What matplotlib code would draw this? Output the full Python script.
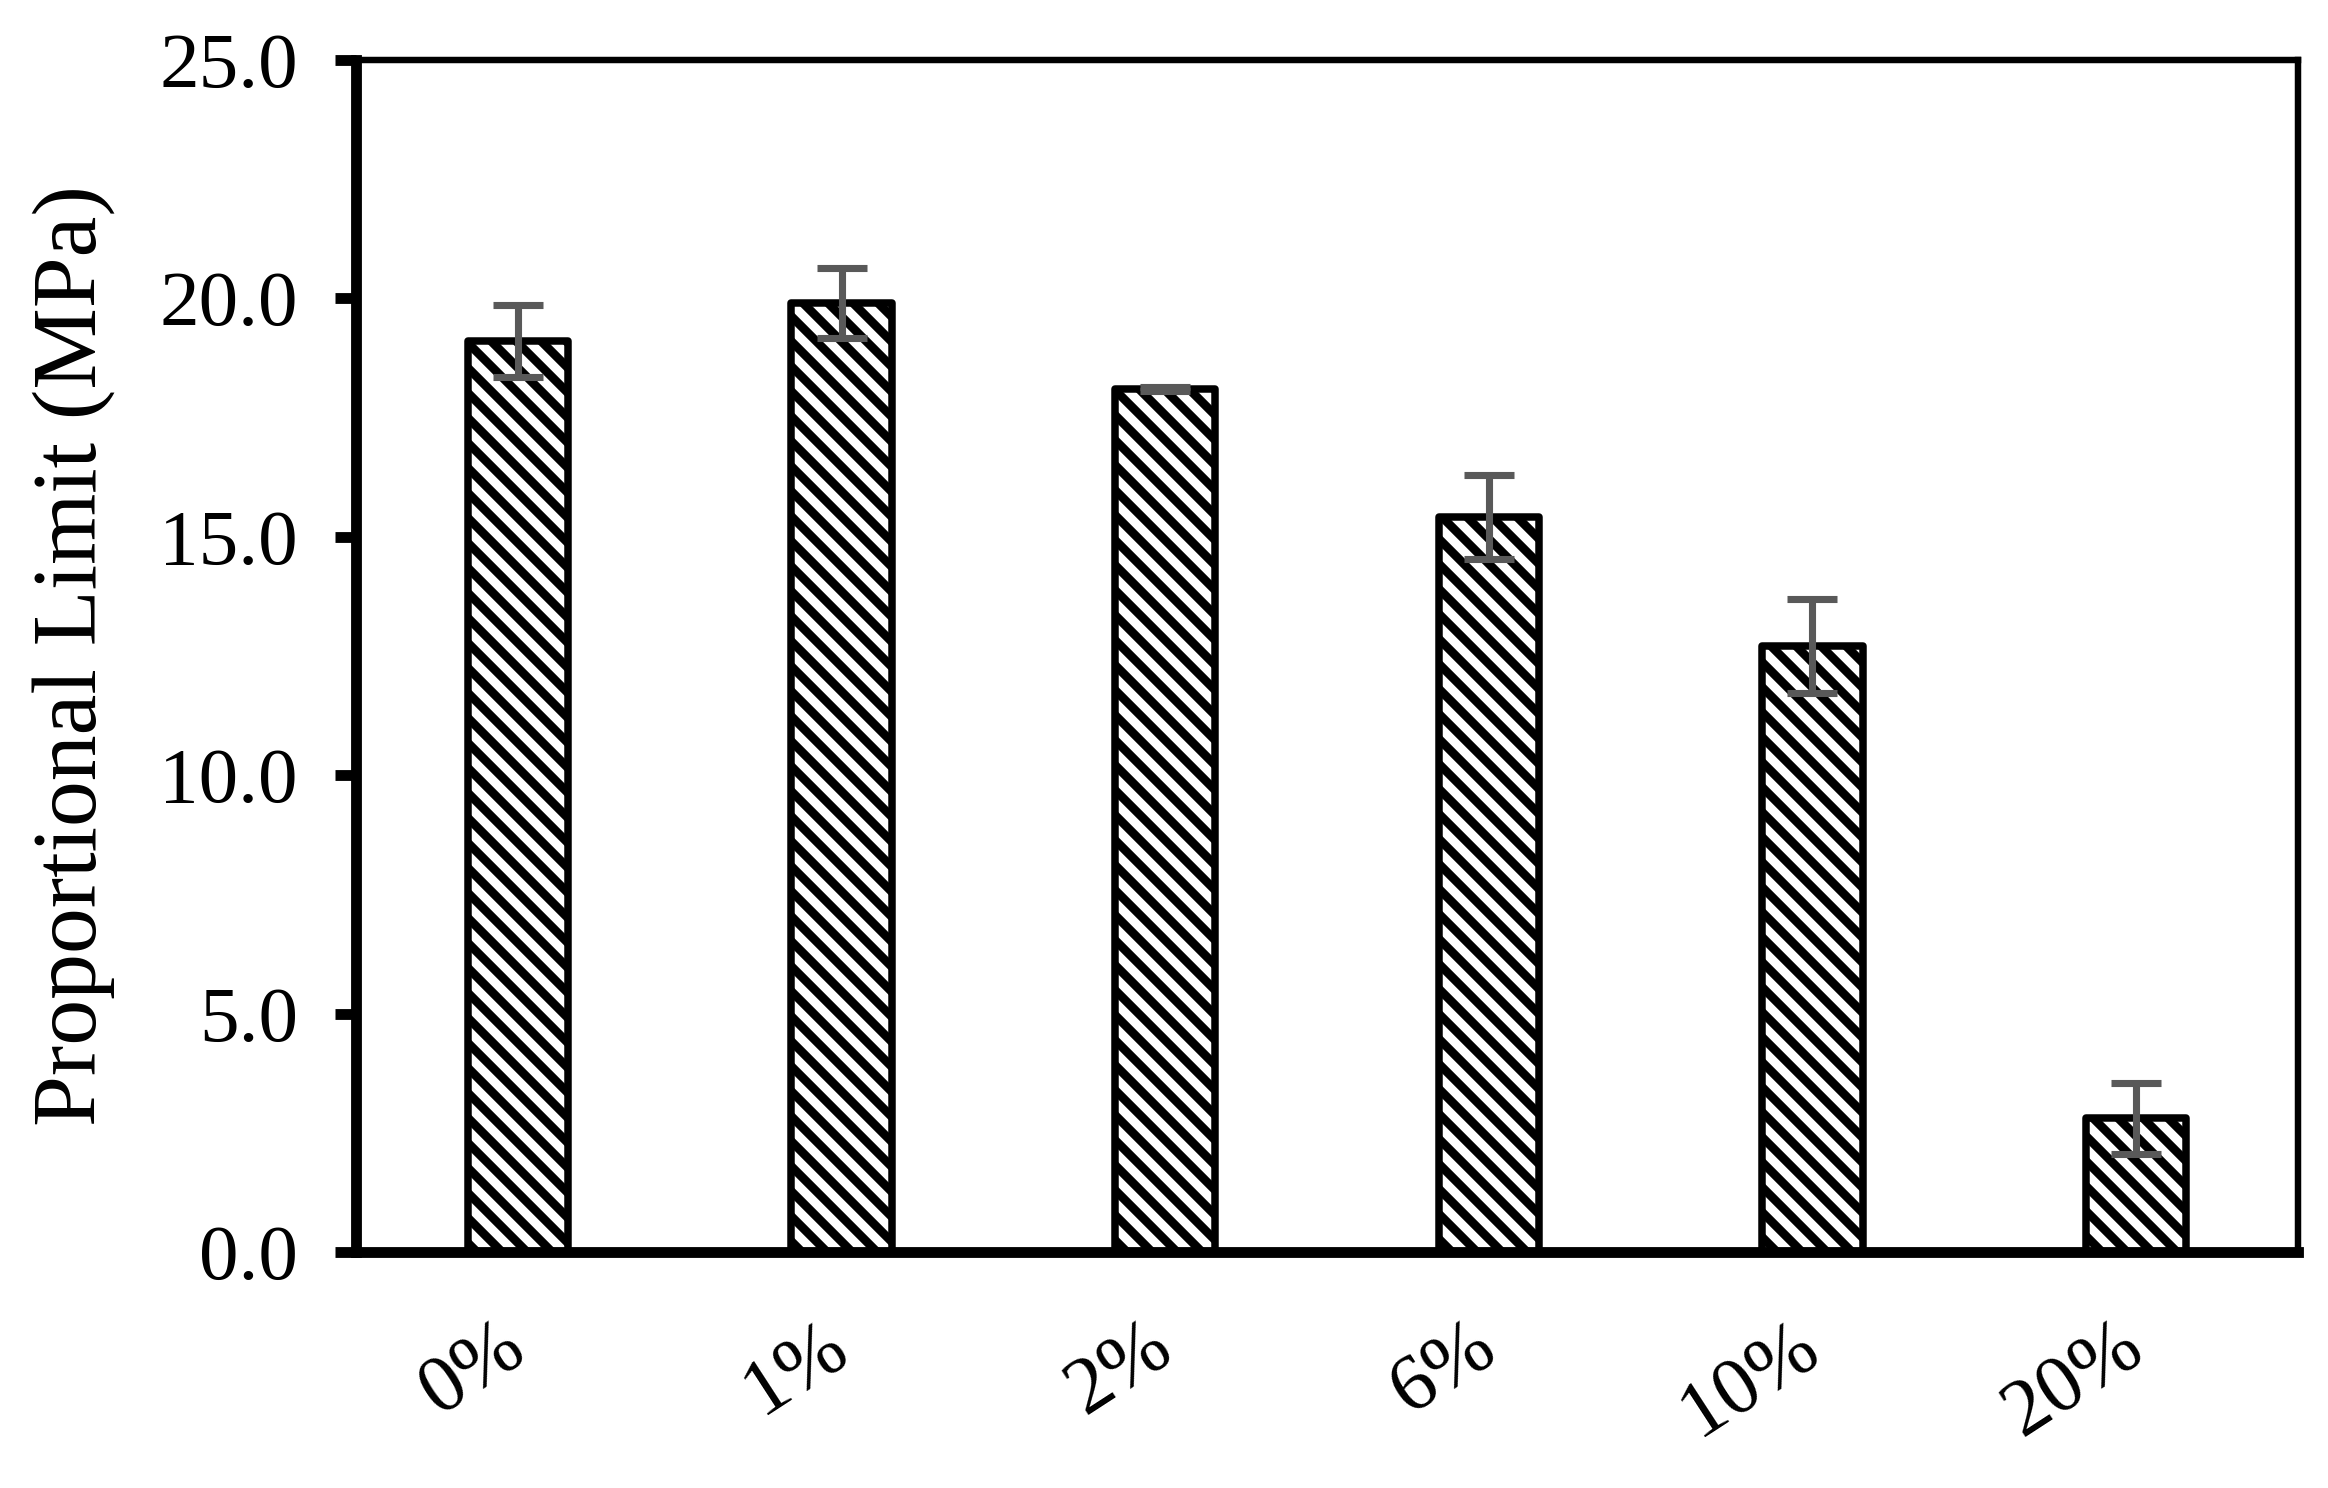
#!/usr/bin/env python3
import numpy as np
import matplotlib
matplotlib.use('Agg')
import matplotlib.pyplot as plt

# data
categories = ['0%', '1%', '2%', '6%', '10%', '20%']
limit_mpa = [19.1, 19.9, 18.1, 15.4, 12.7, 2.8]
limit_err = [0.75, 0.73, 0.04, 0.88, 0.98, 0.75]
yticks = [0.0, 5.0, 10.0, 15.0, 20.0, 25.0]

plt.rcParams['font.family'] = ['Liberation Serif', 'DejaVu Serif']
plt.rcParams['hatch.linewidth'] = 4.2
plt.rcParams['hatch.color'] = 'black'

fig = plt.figure(figsize=(15.52, 9.92), dpi=150)
ax = fig.add_axes([0.153, 0.1586, 0.834, 0.8014])

x = np.arange(len(categories))
bars = ax.bar(x, limit_mpa, width=0.31, color='white', edgecolor='black',
              linewidth=3.6, hatch='\\\\', zorder=2)
for b in bars:
    b.set_joinstyle('round')

ax.errorbar(x, limit_mpa, yerr=limit_err, fmt='none', ecolor='#595959',
            elinewidth=3.4, capsize=12, capthick=3.4, zorder=3)

ax.set_xlim(-0.5, len(categories) - 0.5)
ax.set_ylim(0, 25)
ax.set_yticks(yticks)
ax.set_yticklabels(['%.1f' % v for v in yticks], fontsize=38)
ax.set_xticks(x)
ax.set_xticklabels(categories, fontsize=39, rotation=33, ha='right',
                   va='center', rotation_mode='anchor')
ax.tick_params(axis='x', length=0, pad=42)
ax.tick_params(axis='y', direction='out', length=10, width=5.2, pad=18)

ax.spines['left'].set_linewidth(5.2)
ax.spines['bottom'].set_linewidth(5.2)
ax.spines['top'].set_linewidth(3.1)
ax.spines['right'].set_linewidth(3.1)

ax.set_ylabel('Proportional Limit (MPa)', fontsize=44, labelpad=21)

plt.savefig('out.png', dpi=150)
